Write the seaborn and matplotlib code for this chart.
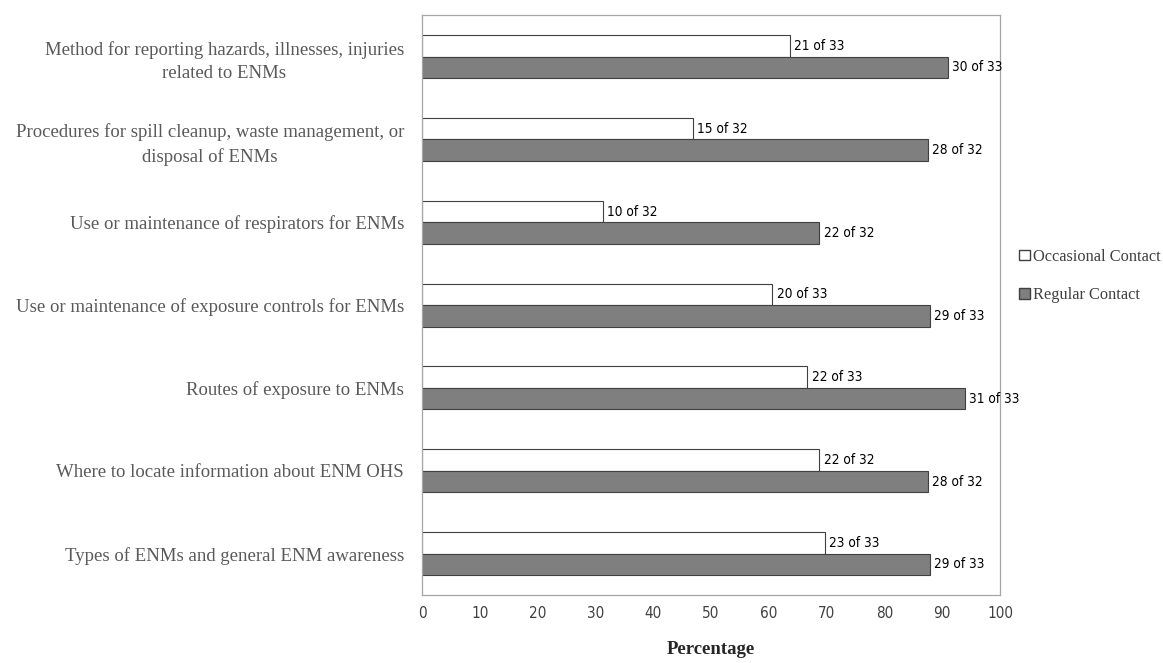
import pandas as pd
import seaborn as sns
import numpy as np
import matplotlib.pyplot as plt
from matplotlib.patches import Patch

# topics, top to bottom
topics = ["Method for reporting hazards, illnesses, injuries\nrelated to ENMs",
          "Procedures for spill cleanup, waste management, or\ndisposal of ENMs",
          "Use or maintenance of respirators for ENMs",
          "Use or maintenance of exposure controls for ENMs",
          "Routes of exposure to ENMs",
          "Where to locate information about ENM OHS",
          "Types of ENMs and general ENM awareness"]

occasional_n = [21, 15, 10, 20, 22, 22, 23]
occasional_tot = [33, 32, 32, 33, 33, 32, 33]
regular_n = [30, 28, 22, 29, 31, 28, 29]
regular_tot = [33, 32, 32, 33, 33, 32, 33]

groups = ["Occasional Contact", "Regular Contact"]

rows = []
for i, t in enumerate(topics):
    rows.append([t, groups[0], 100 * occasional_n[i] / occasional_tot[i],
                 f"{occasional_n[i]} of {occasional_tot[i]}"])
    rows.append([t, groups[1], 100 * regular_n[i] / regular_tot[i],
                 f"{regular_n[i]} of {regular_tot[i]}"])
df = pd.DataFrame(rows, columns=["topic", "group", "pct", "label"])

narrow = "DejaVu Sans"
serif = "Liberation Serif"

sns.set_style("white")
fig = plt.figure(figsize=(11.63, 6.63), dpi=100)
ax = fig.add_axes([0.3629, 0.1026, 0.497, 0.8744])

pal = {"Occasional Contact": "white", "Regular Contact": "#7f7f7f"}
sns.barplot(data=df, y="topic", x="pct", hue="group", palette=pal, orient="h",
            width=0.52, edgecolor="#404040", linewidth=0.8, ax=ax, legend=False,
            order=topics, hue_order=groups)

for cont, g in zip(ax.containers, groups):
    labs = df[df.group == g]["label"].tolist()
    ax.bar_label(cont, labels=labs, padding=3, fontsize=9.8, family=narrow,
                 fontstretch="condensed", color="black")

ax.set_xlim(0, 100)
ax.set_ylim(6.5, -0.5)
ax.set_xticks(np.arange(0, 101, 10))
ax.tick_params(axis="x", length=0, pad=8, labelsize=11, labelcolor="#404040")
ax.tick_params(axis="y", length=0, pad=13)
for lab in ax.get_xticklabels():
    lab.set_family(narrow)
    lab.set_stretch("condensed")
for lab in ax.get_yticklabels():
    lab.set_family(serif)
    lab.set_fontsize(13.5)
    lab.set_color("#595959")
    lab.set_multialignment("center")
    lab.set_linespacing(1.45)
ax.set_ylabel("")
ax.set_xlabel("Percentage", family=serif, fontsize=13.5, fontweight="bold", labelpad=14)

for s in ax.spines.values():
    s.set_color("#a6a6a6")
    s.set_linewidth(0.9)

handles = [Patch(facecolor="white", edgecolor="#404040", label=groups[0]),
           Patch(facecolor="#7f7f7f", edgecolor="#404040", label=groups[1])]
leg = fig.legend(handles=handles, loc="center left", bbox_to_anchor=(0.8637, 0.584),
                 frameon=False, prop={"family": serif, "size": 11.8},
                 handlelength=0.65, handleheight=0.65, handletextpad=0.2, labelspacing=1.35)
for t in leg.get_texts():
    t.set_color("#404040")

fig.savefig("out.png", dpi=100)
